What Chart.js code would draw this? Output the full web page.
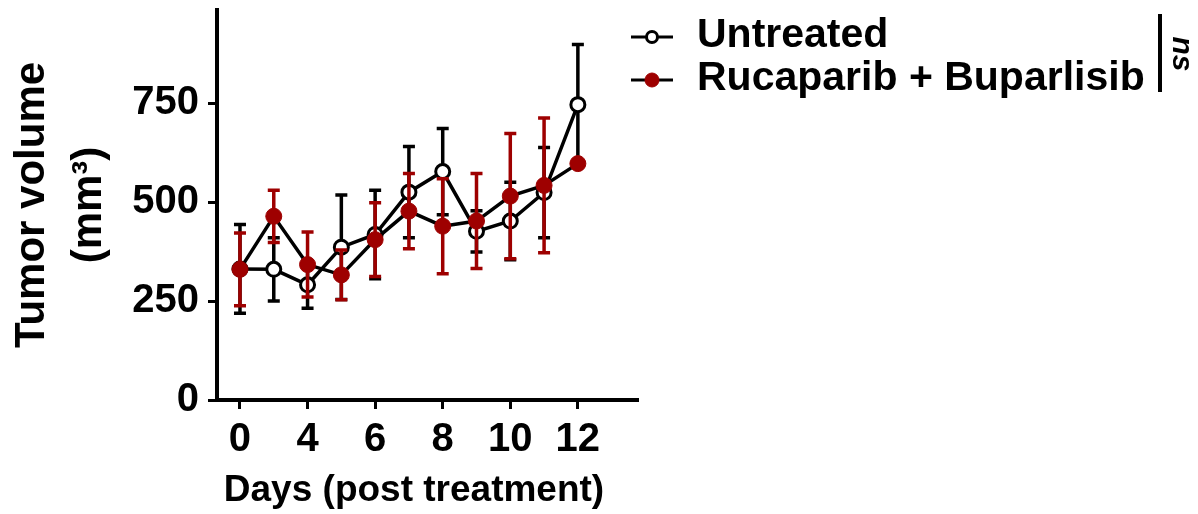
<!DOCTYPE html>
<html lang="en">
<head>
<meta charset="UTF-8">
<title>Tumor volume</title>
<script src="https://cdn.jsdelivr.net/npm/chart.js"></script>
<style>
  body { margin: 0; background: #fff; }
</style>
</head>
<body>
<canvas id="tumorChart" width="1198" height="514"></canvas>
<script>
  // measurement index (evenly spaced on the plot), custom day labels
  const dayIndex = [0, 1, 2, 3, 4, 5, 6, 7, 8, 9, 10];
  const xTickPos = [0, 2, 4, 6, 8, 10];
  const xTickLabels = ['0', '4', '6', '8', '10', '12'];
  const yTicks = [0, 250, 500, 750];
  const xTitle = 'Days (post treatment)';

  const untreatedMean = [331, 330, 291, 386, 418, 525, 577, 426, 452, 524, 746];
  const untreatedErr  = [112, 80, 59, 132, 112, 115, 109, 52, 98, 114, 152];
  const rucMean = [330, 464, 342, 316, 405, 477, 439, 452, 515, 542, 597];
  const rucErr  = [92, 66, 82, 63, 93, 95, 120, 120, 158, 170, 0];

  const FONT = "'Liberation Sans', Arial, sans-serif";
  const RED = '#9e0000';

  const errorBars = {
    id: 'errorBars',
    beforeDatasetDraw(chart, args) {
      const ds = chart.data.datasets[args.index];
      const xs = chart.scales.x, ys = chart.scales.y;
      const c = chart.ctx;
      c.save();
      c.strokeStyle = ds.errColor;
      c.lineWidth = 3.5;
      ds.data.forEach((p, i) => {
        const e = ds.err[i];
        if (!e) return;
        const px = xs.getPixelForValue(p.x);
        const top = ys.getPixelForValue(p.y + e);
        const bot = ys.getPixelForValue(p.y - e);
        c.beginPath();
        c.moveTo(px, top); c.lineTo(px, bot);
        c.moveTo(px - 6, top); c.lineTo(px + 6, top);
        c.moveTo(px - 6, bot); c.lineTo(px + 6, bot);
        c.stroke();
      });
      c.restore();
    }
  };

  const sideLegend = {
    id: 'sideLegend',
    afterDraw(chart) {
      const c = chart.ctx;
      const rows = [
        { y: 37, ds: chart.data.datasets[0], r: 5.5 },
        { y: 80, ds: chart.data.datasets[1], r: 7 }
      ];
      c.save();
      rows.forEach(row => {
        c.strokeStyle = '#000';
        c.lineWidth = 3;
        c.beginPath();
        c.moveTo(631, row.y); c.lineTo(673, row.y);
        c.stroke();
        c.beginPath();
        c.arc(652, row.y, row.r, 0, Math.PI * 2);
        c.fillStyle = row.ds.pointBackgroundColor;
        c.fill();
        c.strokeStyle = row.ds.pointBorderColor;
        c.lineWidth = row.ds.pointBorderWidth;
        c.stroke();
        c.fillStyle = '#000';
        c.font = 'bold 41px ' + FONT;
        c.textBaseline = 'middle';
        c.textAlign = 'left';
        c.fillText(row.ds.label, 697, row.y - 1);
      });

      // x axis title, centred a little left of the plot centre as in the figure
      c.font = 'bold 37px ' + FONT;
      c.textAlign = 'center';
      c.fillText(xTitle, 414, 491);

      // significance bracket
      c.strokeStyle = '#000';
      c.lineWidth = 4;
      c.beginPath();
      c.moveTo(1160, 14); c.lineTo(1160, 92);
      c.stroke();
      c.translate(1181, 54);
      c.rotate(Math.PI / 2);
      c.font = 'italic bold 30px ' + FONT;
      c.textAlign = 'center';
      c.textBaseline = 'middle';
      c.fillText('ns', 0, 0);
      c.restore();
    }
  };

  const tickFont = { family: FONT, size: 40, weight: 'bold' };

  new Chart(document.getElementById('tumorChart').getContext('2d'), {
    type: 'line',
    data: {
      datasets: [
        {
          label: 'Untreated',
          data: untreatedMean.map((v, i) => ({ x: dayIndex[i], y: v })),
          err: untreatedErr,
          errColor: '#000',
          borderColor: '#000',
          borderWidth: 3.5,
          tension: 0,
          pointRadius: 7,
          pointBorderWidth: 3,
          pointBackgroundColor: '#fff',
          pointBorderColor: '#000',
          order: 1
        },
        {
          label: 'Rucaparib + Buparlisib',
          data: rucMean.map((v, i) => ({ x: dayIndex[i], y: v })),
          err: rucErr,
          errColor: RED,
          borderColor: '#000',
          borderWidth: 3.5,
          tension: 0,
          pointRadius: 8,
          pointBorderWidth: 1,
          pointBackgroundColor: RED,
          pointBorderColor: RED,
          order: 0
        }
      ]
    },
    options: {
      responsive: false,
      animation: false,
      layout: { padding: { top: 10, right: 561, left: 0, bottom: 0 } },
      plugins: {
        legend: { display: false },
        tooltip: { enabled: false }
      },
      scales: {
        x: {
          type: 'linear',
          min: -0.68,
          max: 11.75,
          afterBuildTicks: s => { s.ticks = xTickPos.map(v => ({ value: v })); },
          afterFit: s => { s.height = 114; s.paddingLeft = 0; s.paddingRight = 0; },
          ticks: {
            callback: (v, i) => xTickLabels[i],
            font: tickFont,
            color: '#000',
            padding: 7,
            maxRotation: 0,
            autoSkip: false
          },
          grid: { drawOnChartArea: false, color: '#000', lineWidth: 3, tickLength: 9 },
          border: { width: 4, color: '#000' }
        },
        y: {
          min: 0,
          max: 985,
          afterBuildTicks: s => { s.ticks = yTicks.map(v => ({ value: v })); },
          afterFit: s => { s.width = 217; s.paddingTop = 0; s.paddingBottom = 0; },
          ticks: { font: tickFont, color: '#000', padding: 9 },
          grid: { drawOnChartArea: false, color: '#000', lineWidth: 3, tickLength: 9 },
          border: { width: 4, color: '#000' },
          title: {
            display: true,
            text: ['Tumor volume', '(mm\u00B3)'],
            color: '#000',
            font: { family: FONT, size: 42, weight: 'bold', lineHeight: 1.35 },
            padding: { top: 4, bottom: 0 }
          }
        }
      }
    },
    plugins: [errorBars, sideLegend]
  });
</script>
</body>
</html>
